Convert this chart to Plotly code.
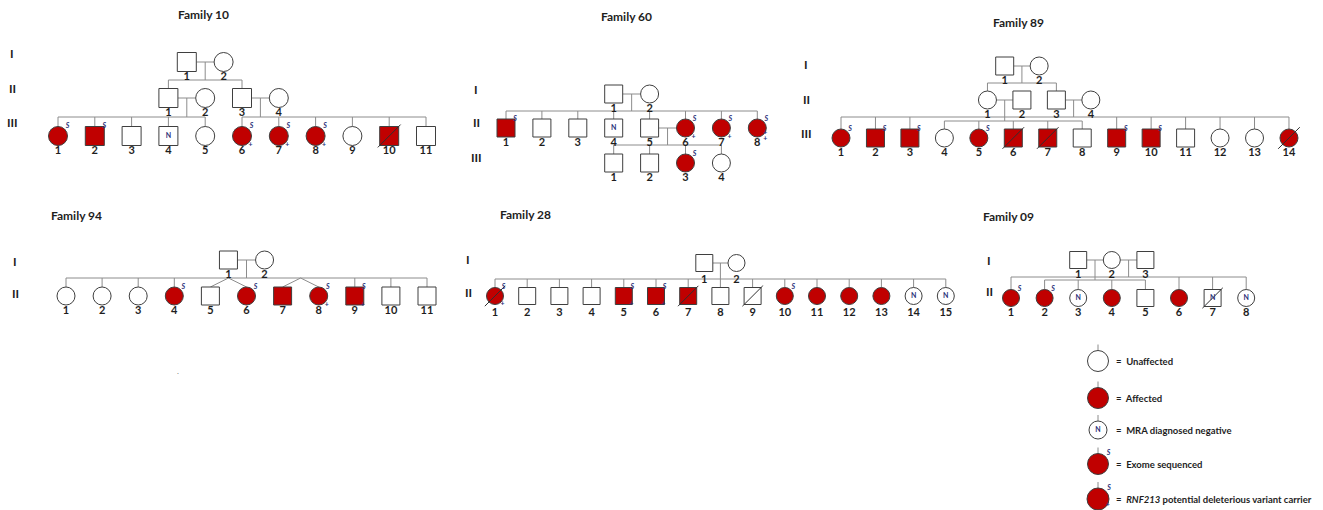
import plotly.graph_objects as go

# ---------------------------------------------------------------------------
# Pedigree members: (generation, number, sex, affected, marks)
# marks: S = exome sequenced, + = RNF213 variant carrier,
#        N = MRA diagnosed negative, D = deceased
# ---------------------------------------------------------------------------
fam10_members = [
    ("I", 1, "M", 0, ""), ("I", 2, "F", 0, ""),
    ("II", 1, "M", 0, ""), ("II", 2, "F", 0, ""), ("II", 3, "M", 0, ""), ("II", 4, "F", 0, ""),
    ("III", 1, "F", 1, "S"), ("III", 2, "M", 1, "S"), ("III", 3, "M", 0, ""),
    ("III", 4, "M", 0, "N"), ("III", 5, "F", 0, ""), ("III", 6, "F", 1, "S+"),
    ("III", 7, "F", 1, "S+"), ("III", 8, "F", 1, "S+"), ("III", 9, "F", 0, ""),
    ("III", 10, "M", 1, "D"), ("III", 11, "M", 0, ""),
]
fam10_unions = [
    ("I-1", "I-2", ["II-1", "II-3"]),
    ("II-1", "II-2", ["III-1", "III-2", "III-3", "III-4", "III-5"]),
    ("II-3", "II-4", ["III-6", "III-7", "III-8", "III-9", "III-10", "III-11"]),
]

fam60_members = [
    ("I", 1, "M", 0, ""), ("I", 2, "F", 0, ""),
    ("II", 1, "M", 1, "S"), ("II", 2, "M", 0, ""), ("II", 3, "M", 0, ""),
    ("II", 4, "M", 0, "N"), ("II", 5, "M", 0, ""), ("II", 6, "F", 1, "S+"),
    ("II", 7, "F", 1, "S+"), ("II", 8, "F", 1, "S++"),
    ("III", 1, "M", 0, ""), ("III", 2, "M", 0, ""), ("III", 3, "F", 1, "S"), ("III", 4, "F", 0, ""),
]
fam60_unions = [
    ("I-1", "I-2", ["II-1", "II-2", "II-3", "II-4", "II-5", "II-6", "II-7", "II-8"]),
    ("II-5", "II-6", ["III-1", "III-2", "III-3", "III-4"]),
]

fam89_members = [
    ("I", 1, "M", 0, ""), ("I", 2, "F", 0, ""),
    ("II", 1, "F", 0, ""), ("II", 2, "M", 0, ""), ("II", 3, "M", 0, ""), ("II", 4, "F", 0, ""),
    ("III", 1, "F", 1, "S"), ("III", 2, "M", 1, "S"), ("III", 3, "M", 1, "S"),
    ("III", 4, "F", 0, ""), ("III", 5, "F", 1, "S"), ("III", 6, "M", 1, "D"),
    ("III", 7, "M", 1, "D"), ("III", 8, "M", 0, ""), ("III", 9, "M", 1, "S"),
    ("III", 10, "M", 1, "S"), ("III", 11, "M", 0, ""), ("III", 12, "F", 0, ""),
    ("III", 13, "F", 0, ""), ("III", 14, "F", 1, "D"),
]
fam89_unions = [
    ("I-1", "I-2", ["II-1", "II-3"]),
    ("II-1", "II-2", ["III-4", "III-5", "III-6", "III-7", "III-8"]),
    ("II-3", "II-4", ["III-1", "III-2", "III-3", "III-9", "III-10", "III-11",
                      "III-12", "III-13", "III-14"]),
]

fam94_members = [
    ("I", 1, "M", 0, ""), ("I", 2, "F", 0, ""),
    ("II", 1, "F", 0, ""), ("II", 2, "F", 0, ""), ("II", 3, "F", 0, ""),
    ("II", 4, "F", 1, "S"), ("II", 5, "M", 0, ""), ("II", 6, "F", 1, "S"),
    ("II", 7, "M", 1, ""), ("II", 8, "F", 1, "S+"), ("II", 9, "M", 1, "S+"),
    ("II", 10, "M", 0, ""), ("II", 11, "M", 0, ""),
]
fam94_unions = [
    ("I-1", "I-2", ["II-%d" % i for i in range(1, 12)]),
]
fam94_twins = [("II-5", "II-6"), ("II-7", "II-8")]

fam28_members = [
    ("I", 1, "M", 0, ""), ("I", 2, "F", 0, ""),
    ("II", 1, "F", 1, "SD+"), ("II", 2, "M", 0, ""), ("II", 3, "M", 0, ""),
    ("II", 4, "M", 0, ""), ("II", 5, "M", 1, "S+"), ("II", 6, "M", 1, "S+"),
    ("II", 7, "M", 1, "D"), ("II", 8, "M", 0, ""), ("II", 9, "M", 0, "D"),
    ("II", 10, "F", 1, "S"), ("II", 11, "F", 1, ""), ("II", 12, "F", 1, ""),
    ("II", 13, "F", 1, ""), ("II", 14, "F", 0, "N"), ("II", 15, "F", 0, "N"),
]
fam28_unions = [
    ("I-1", "I-2", ["II-%d" % i for i in range(1, 16)]),
]

fam09_members = [
    ("I", 1, "M", 0, ""), ("I", 2, "F", 0, ""), ("I", 3, "M", 0, ""),
    ("II", 1, "F", 1, "S"), ("II", 2, "F", 1, "S"), ("II", 3, "F", 0, "N"),
    ("II", 4, "F", 1, ""), ("II", 5, "M", 0, ""), ("II", 6, "F", 1, ""),
    ("II", 7, "M", 0, "ND"), ("II", 8, "F", 0, "N"),
]
fam09_unions = [
    ("I-1", "I-2", ["II-2", "II-3", "II-4", "II-5"]),
    ("I-2", "I-3", ["II-1", "II-6", "II-7", "II-8"]),
]

legend_labels = ["Unaffected", "Affected", "MRA diagnosed negative",
                 "Exome sequenced", "<i>RNF213</i> potential deleterious variant carrier"]
legend_affected = [0, 1, 0, 1, 1]
legend_marks = ["", "", "N", "S", "S+"]

# ---------------------------------------------------------------------------
# Page layout of each pedigree (pixel grid: x0 + slot * dx)
# ---------------------------------------------------------------------------
layouts = [
    dict(title="Family 10", title_xy=(203, 14), x0=58, dx=36.8, size=19, label_dy=15.5,
         gen_y={"I": 62, "II": 98, "III": 136}, gen_lbl=(12, {"I": 53, "II": 88, "III": 122}),
         slots={"I-1": 3.5, "I-2": 4.5, "II-1": 3, "II-2": 4, "II-3": 5, "II-4": 6},
         sib_y=[80, 117, 117]),
    dict(title="Family 60", title_xy=(626, 16), x0=506, dx=35.9, size=18, label_dy=15,
         gen_y={"I": 94, "II": 128, "III": 163}, gen_lbl=(476, {"I": 89, "II": 122, "III": 157}),
         slots={"I-1": 3, "I-2": 4, "III-1": 3, "III-2": 4, "III-3": 5, "III-4": 6},
         sib_y=[111, 145]),
    dict(title="Family 89", title_xy=(1018, 22), x0=841, dx=34.46, size=18, label_dy=15.5,
         gen_y={"I": 66, "II": 100, "III": 138}, gen_lbl=(806, {"I": 64, "II": 99, "III": 133}),
         slots={"I-1": 4.75, "I-2": 5.75, "II-1": 4.25, "II-2": 5.25, "II-3": 6.25, "II-4": 7.25},
         sib_y=[83, 121, 117]),
    dict(title="Family 94", title_xy=(76, 215), x0=66, dx=36.1, size=18, label_dy=15.5,
         gen_y={"I": 260, "II": 296}, gen_lbl=(15, {"I": 261, "II": 293}),
         slots={"I-1": 4.5, "I-2": 5.5}, sib_y=[278]),
    dict(title="Family 28", title_xy=(525, 214), x0=495, dx=32.2, size=17, label_dy=17,
         gen_y={"I": 263, "II": 296}, gen_lbl=(468, {"I": 259, "II": 292}),
         slots={"I-1": 6.5, "I-2": 7.5}, sib_y=[279]),
    dict(title="Family 09", title_xy=(1008, 216), x0=1011, dx=33.6, size=17, label_dy=15,
         gen_y={"I": 260, "II": 298}, gen_lbl=(989, {"I": 260, "II": 291}),
         slots={"I-1": 2, "I-2": 3, "I-3": 4}, sib_y=[280, 277]),
]
families = [
    (fam10_members, fam10_unions, []),
    (fam60_members, fam60_unions, []),
    (fam89_members, fam89_unions, []),
    (fam94_members, fam94_unions, fam94_twins),
    (fam28_members, fam28_unions, []),
    (fam09_members, fam09_unions, []),
]

RED = "#C00000"
OUTLINE = "#3F3F3F"
LINK = "#8C8C8C"
NAVY = "#2A2F78"
INK = "#1E1E1E"
FONT = "Lato"

link_x, link_y = [], []
dead_x, dead_y = [], []
sym_x, sym_y, sym_shape, sym_fill, sym_size = [], [], [], [], []
num_x, num_y, num_t = [], [], []
mark_x, mark_y, mark_t = [], [], []
annotations = []


def seg(x1, y1, x2, y2, xs=link_x, ys=link_y):
    xs += [x1, x2, None]
    ys += [y1, y2, None]


def add_symbol(x, y, sex, aff, marks, size, label=None, label_dy=15, plus_dy=None):
    r = size / 2
    sym_x.append(x)
    sym_y.append(y)
    sym_shape.append("square" if sex == "M" else "circle")
    sym_fill.append(RED if aff else "white")
    sym_size.append(size)
    if "D" in marks:
        seg(x - 1.2 * r, y + 1.2 * r, x + 1.2 * r, y - 1.2 * r, dead_x, dead_y)
    if "N" in marks:
        mark_x.append(x); mark_y.append(y); mark_t.append("<b>N</b>")
    if "S" in marks:
        mark_x.append(x + 1.0 * r); mark_y.append(y - 1.0 * r); mark_t.append("<b><i>S</i></b>")
    n_plus = marks.count("+")
    for k in range(n_plus):
        if plus_dy is not None:
            dy = plus_dy
        else:
            dy = 1.0 * r if n_plus == 1 else 0.55 * r + k * 6
        mark_x.append(x + 0.9 * r); mark_y.append(y + dy); mark_t.append("<b>+</b>")
    if label is not None:
        num_x.append(x); num_y.append(y + label_dy); num_t.append("<b>%s</b>" % label)


for (members, unions, twins), lay in zip(families, layouts):
    pos = {}
    r = lay["size"] / 2
    for gen, num, sex, aff, marks in members:
        pid = "%s-%d" % (gen, num)
        slot = lay["slots"].get(pid, num - 1)
        pos[pid] = (lay["x0"] + slot * lay["dx"], lay["gen_y"][gen])

    twin_of = {}
    for a, b in twins:
        twin_of[a] = (a, b)
        twin_of[b] = (a, b)

    for (pa, pb, kids), sy in zip(unions, lay["sib_y"]):
        (xa, ya), (xb, yb) = pos[pa], pos[pb]
        lo, hi = sorted([xa, xb])
        seg(lo + r, ya, hi - r, ya)
        mx = (xa + xb) / 2
        seg(mx, ya, mx, sy)
        xs = [mx]
        for kid in kids:
            kx, ky = pos[kid]
            if kid in twin_of:
                a, b = twin_of[kid]
                apex = (pos[a][0] + pos[b][0]) / 2
                seg(apex, sy, kx, ky - r)
                xs.append(apex)
            else:
                seg(kx, sy, kx, ky - r)
                xs.append(kx)
        seg(min(xs), sy, max(xs), sy)

    for gen, num, sex, aff, marks in members:
        x, y = pos["%s-%d" % (gen, num)]
        add_symbol(x, y, sex, aff, marks, lay["size"], str(num), lay["label_dy"])

    tx, ty = lay["title_xy"]
    annotations.append(dict(x=tx, y=ty, text="<b>%s</b>" % lay["title"], showarrow=False,
                            font=dict(family=FONT, size=12, color=INK),
                            xanchor="center", yanchor="middle"))
    gx, gys = lay["gen_lbl"]
    for g, gy in gys.items():
        annotations.append(dict(x=gx, y=gy, text="<b>%s</b>" % g, showarrow=False,
                                font=dict(family=FONT, size=12, color=INK),
                                xanchor="center", yanchor="middle"))

# Key of symbols
legend_x = 1098
legend_y = [361, 398, 430, 464, 499]
legend_size = [21, 21, 18, 21, 22]
for lbl, aff, mk, ly, sz in zip(legend_labels, legend_affected, legend_marks, legend_y, legend_size):
    seg(legend_x, ly - sz / 2 - 6, legend_x, ly - sz / 2)
    add_symbol(legend_x, ly, "F", aff, mk, sz, plus_dy=6)
    annotations.append(dict(x=1114, y=ly, text="<b>=  %s</b>" % lbl, showarrow=False,
                            font=dict(family=FONT, size=9.5, color=INK),
                            xanchor="left", yanchor="middle"))

fig = go.Figure()
fig.add_trace(go.Scatter(x=link_x, y=link_y, mode="lines",
                         line=dict(color=LINK, width=1), hoverinfo="skip"))
fig.add_trace(go.Scatter(x=sym_x, y=sym_y, mode="markers", hoverinfo="skip",
                         marker=dict(symbol=sym_shape, size=sym_size, color=sym_fill, opacity=1,
                                     line=dict(color=OUTLINE, width=1))))
fig.add_trace(go.Scatter(x=dead_x, y=dead_y, mode="lines",
                         line=dict(color="#2F2F2F", width=1), hoverinfo="skip"))
fig.add_trace(go.Scatter(x=num_x, y=num_y, mode="text", text=num_t, hoverinfo="skip",
                         textfont=dict(family=FONT, size=11, color=INK)))
fig.add_trace(go.Scatter(x=mark_x, y=mark_y, mode="text", text=mark_t, hoverinfo="skip",
                         textfont=dict(family=FONT, size=7, color=NAVY)))
fig.add_trace(go.Scatter(x=[178], y=[372], mode="text", text=["."], hoverinfo="skip",
                         textfont=dict(family=FONT, size=8, color="#777777")))

fig.update_layout(
    width=1323, height=510, margin=dict(l=0, r=0, t=0, b=0),
    paper_bgcolor="white", plot_bgcolor="white", showlegend=False,
    annotations=annotations,
    xaxis=dict(range=[0, 1323], visible=False, fixedrange=True),
    yaxis=dict(range=[510, 0], visible=False, fixedrange=True),
)
fig.write_html("out.html")
